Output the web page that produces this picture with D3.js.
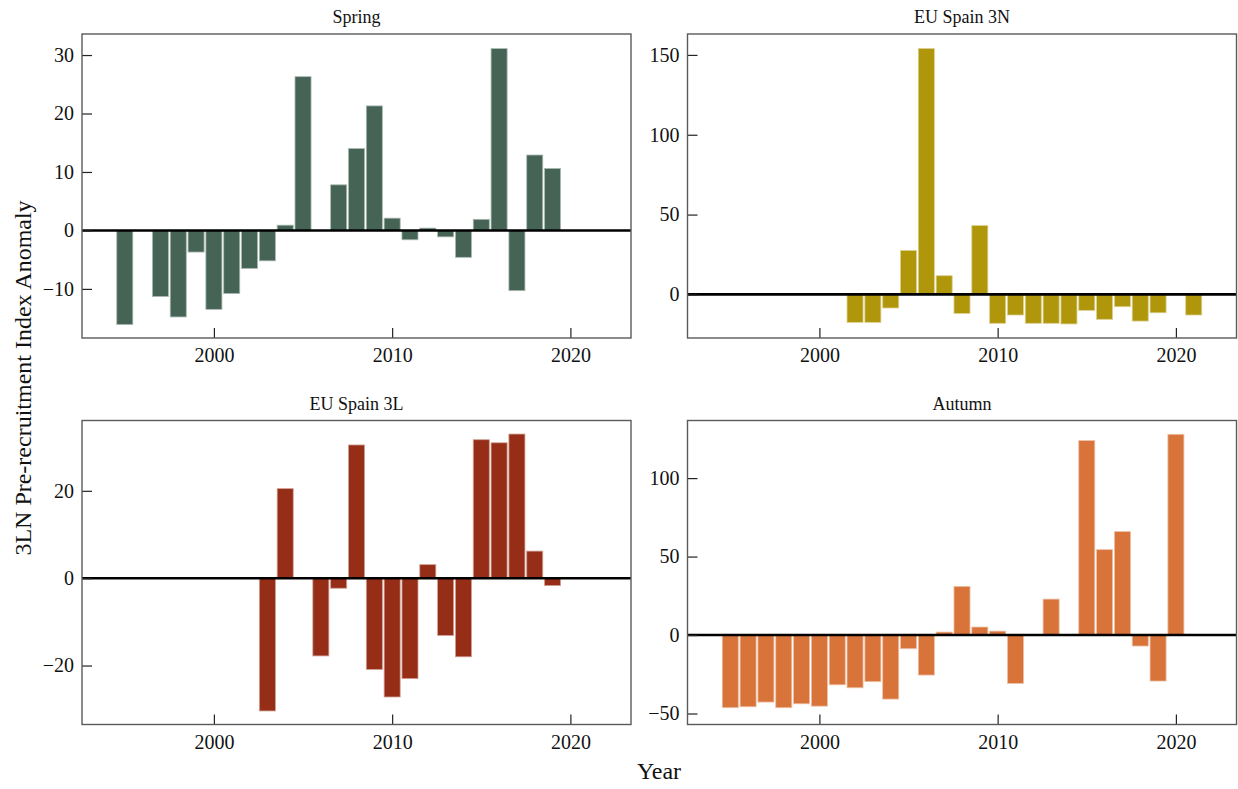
<!DOCTYPE html>
<html>
<head>
<meta charset="utf-8">
<script src="https://cdn.jsdelivr.net/npm/d3@7"></script>
<style>
  html, body { margin: 0; padding: 0; background: #fff; }
  svg { display: block; font-family: "Liberation Serif", "DejaVu Serif", serif; }
</style>
</head>
<body>
<svg id="chart" width="1238" height="789"></svg>
<script>
// Survey years shared by all four panels
const years = [1995, 1996, 1997, 1998, 1999, 2000, 2001, 2002, 2003, 2004, 2005, 2006, 2007, 2008,
               2009, 2010, 2011, 2012, 2013, 2014, 2015, 2016, 2017, 2018, 2019, 2020, 2021];

// Pre-recruitment index anomalies by survey (null = no survey that year)
const springValues = [-16.1, null, -11.3, -14.8, -3.7, -13.5, -10.8, -6.5, -5.2, 0.9, 26.3, null, 7.8, 14.0,
                      21.3, 2.1, -1.6, 0.4, -1.1, -4.6, 1.9, 31.1, -10.3, 12.9, 10.6, null, null];
const spain3NValues = [null, null, null, null, null, null, null, -17.5, -17.5, -8.5, 27.5, 154.0, 11.7, -11.9,
                       43.1, -18.1, -12.9, -18.1, -18.1, -18.5, -10.0, -15.6, -7.7, -16.7, -11.5, null, -12.9];
const spain3LValues = [null, null, null, null, null, null, null, null, -30.4, 20.5, null, -17.8, -2.3, 30.5,
                       -20.9, -27.2, -23.0, 3.1, -13.1, -18.0, 31.7, 31.0, 33.0, 6.2, -1.7, null, null];
const autumnValues = [-46.3, -45.7, -42.7, -46.3, -43.8, -45.3, -31.7, -33.6, -29.7, -40.8, -8.7, -25.5, 1.9, 31.0,
                      5.1, 2.5, -30.8, null, 22.9, null, 123.9, 54.4, 65.9, -7.0, -29.3, 127.9, null];

// Panel titles, tick labels, axis limits and fill colours
const panelTitles = ["Spring", "EU Spain 3N", "EU Spain 3L", "Autumn"];
const xTickValues = [2000, 2010, 2020];
const xLimits = [1992.6, 2023.4];
const springTicks = [-10, 0, 10, 20, 30];
const spain3NTicks = [0, 50, 100, 150];
const spain3LTicks = [-20, 0, 20];
const autumnTicks = [-50, 0, 50, 100];
const springLimits = [-18.4, 33.6];
const spain3NLimits = [-27.3, 163.1];
const spain3LLimits = [-33.5, 36.1];
const autumnLimits = [-57, 136.7];
const panelColors = ["#456455", "#B0960B", "#962D16", "#D8733A"];

const panels = [
  { title: panelTitles[0], values: springValues,  ticks: springTicks,  limits: springLimits,  color: panelColors[0], left: 82,    top: 34 },
  { title: panelTitles[1], values: spain3NValues, ticks: spain3NTicks, limits: spain3NLimits, color: panelColors[1], left: 687.5, top: 34 },
  { title: panelTitles[2], values: spain3LValues, ticks: spain3LTicks, limits: spain3LLimits, color: panelColors[2], left: 82,    top: 420.5 },
  { title: panelTitles[3], values: autumnValues,  ticks: autumnTicks,  limits: autumnLimits,  color: panelColors[3], left: 687.5, top: 420.5 }
];

const panelW = 549, panelH = 304;
const barHalf = 0.45;
const svg = d3.select("#chart");

panels.forEach(p => {
  const g = svg.append("g").attr("transform", `translate(${p.left},${p.top})`);
  const data = years.map((yr, i) => ({ year: yr, value: p.values[i] })).filter(d => d.value !== null);

  const x = d3.scaleLinear().domain(xLimits).range([0, panelW]);
  const y = d3.scaleLinear().domain(p.limits).range([panelH, 0]);

  const lighter = d3.interpolateRgb(p.color, "#ffffff")(0.55);

  // bars
  g.append("g").selectAll("rect").data(data).join("rect")
    .attr("x", d => x(d.year - barHalf))
    .attr("width", d => x(d.year + barHalf) - x(d.year - barHalf))
    .attr("y", d => Math.min(y(d.value), y(0)))
    .attr("height", d => Math.abs(y(d.value) - y(0)))
    .attr("fill", p.color)
    .attr("stroke", lighter)
    .attr("stroke-width", 0.8);

  // zero reference line
  g.append("line")
    .attr("x1", 0).attr("x2", panelW)
    .attr("y1", y(0)).attr("y2", y(0))
    .attr("stroke", "#000").attr("stroke-width", 2.6);

  // axes with inward ticks
  const yAxis = g.append("g").call(
    d3.axisLeft(y).tickValues(p.ticks).tickSize(-10).tickPadding(8).tickFormat(d3.format("d")));
  const xAxis = g.append("g").attr("transform", `translate(0,${panelH})`).call(
    d3.axisBottom(x).tickValues(xTickValues).tickSize(-10).tickPadding(10).tickFormat(d3.format("d")));
  [yAxis, xAxis].forEach(a => {
    a.select(".domain").remove();
    a.selectAll(".tick line").attr("stroke", "#222").attr("stroke-width", 1.2);
    a.selectAll(".tick text").attr("fill", "#111")
      .style("font-family", "'Liberation Serif', serif").style("font-size", "20px");
  });

  // panel frame
  g.append("rect")
    .attr("x", 0).attr("y", 0).attr("width", panelW).attr("height", panelH)
    .attr("fill", "none").attr("stroke", "#5a5a5a").attr("stroke-width", 1.4);

  // panel title
  g.append("text")
    .attr("x", panelW / 2).attr("y", -11)
    .attr("text-anchor", "middle")
    .style("font-size", "18px").attr("fill", "#111")
    .text(p.title);
});

// shared axis titles
svg.append("text")
  .attr("transform", "translate(31,378) rotate(-90)")
  .attr("text-anchor", "middle")
  .style("font-size", "24px").attr("fill", "#111")
  .text("3LN Pre-recruitment Index Anomaly");

svg.append("text")
  .attr("x", 659).attr("y", 779)
  .attr("text-anchor", "middle")
  .style("font-size", "24px").attr("fill", "#111")
  .text("Year");
</script>
</body>
</html>
